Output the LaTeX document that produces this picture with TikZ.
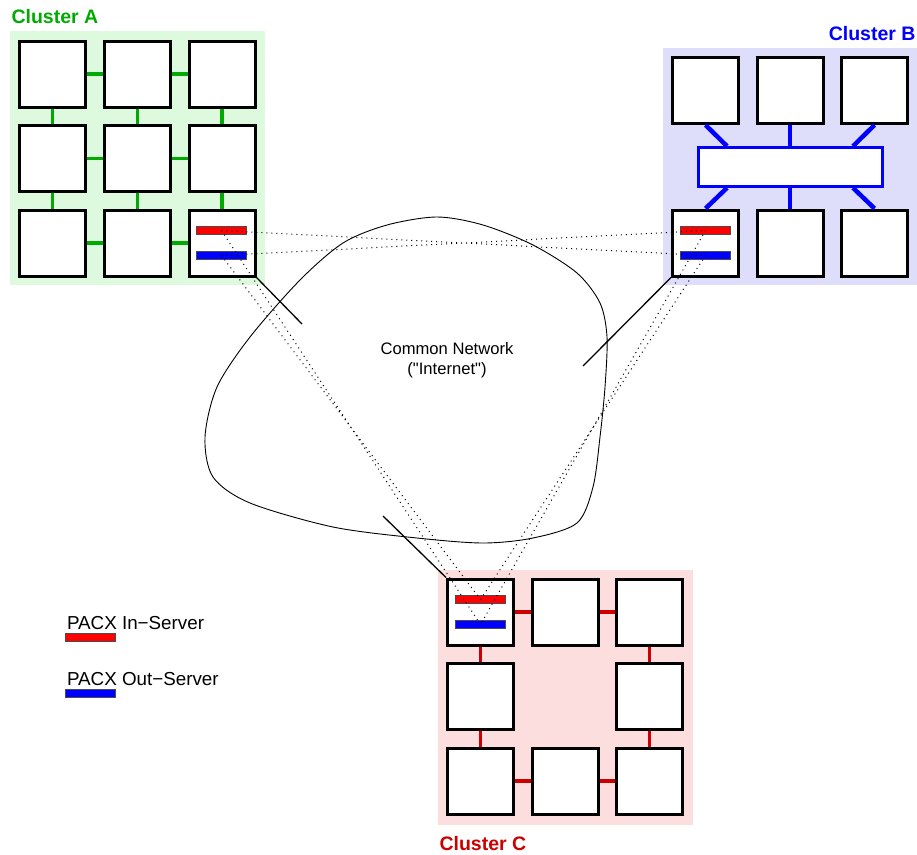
\documentclass[tikz,border=0pt]{standalone}
\usepackage{fontspec}
\setmainfont{Liberation Sans}
\newfontfamily\netfont{Liberation Sans}
\definecolor{clgreen}{RGB}{0,170,0}
\definecolor{clblue}{RGB}{0,0,255}
\definecolor{clred}{RGB}{204,0,0}
\definecolor{bgA}{RGB}{222,250,222}
\definecolor{bgB}{RGB}{222,222,250}
\definecolor{bgC}{RGB}{252,222,222}
\begin{document}
\begin{tikzpicture}[x=1pt,y=-1pt,
    pebox/.style={draw,line width=3pt,fill=white,minimum size=66pt,inner sep=0pt},
    insrv/.style={draw=black!70,line width=0.8pt,fill=red,minimum width=50pt,minimum height=8pt,inner sep=0pt},
    outsrv/.style={insrv,fill=blue},
    link/.style={line width=3.5pt},
    pacx/.style={line width=1pt,dash pattern=on 1pt off 4pt,black},
    clname/.style={anchor=base west,font=\bfseries\fontsize{19.5}{24}\selectfont}]
\useasboundingbox (0,0) rectangle (917,854);
% backgrounds
\fill[bgA] (10,31) rectangle (265,285);
\fill[bgB] (663,48) rectangle (917,285);
\fill[bgC] (438,570) rectangle (693,825);
\node[clname,text=clgreen] (labA) at (8,23) {Cluster A};
\node[clname,anchor=base east,text=clblue] (labB) at (919,40) {Cluster B};
\node[clname,text=clred] (labC) at (436,850) {Cluster C};
% cluster A
\node[pebox] (a11) at (52.5,74) {};
\node[pebox] (a12) at (137.5,74) {};
\node[pebox] (a13) at (222,74) {};
\node[pebox] (a21) at (52.5,158.5) {};
\node[pebox] (a22) at (137.5,158.5) {};
\node[pebox] (a23) at (222,158.5) {};
\node[pebox] (a31) at (52.5,243) {};
\node[pebox] (a32) at (137.5,243) {};
\node[pebox] (a33) at (222,243) {};
\path[link,clgreen] (a11.east) edge (a12.west) (a12.east) edge (a13.west)
    (a21.east) edge (a22.west) (a22.east) edge (a23.west)
    (a31.east) edge (a32.west) (a32.east) edge (a33.west);
\path[link,clgreen] (a11.south) edge (a21.north) (a21.south) edge (a31.north)
    (a12.south) edge (a22.north) (a22.south) edge (a32.north)
    (a13.south) edge (a23.north) (a23.south) edge (a33.north);
\node[insrv] (ain) at (221.5,230.5) {};
\node[outsrv] (aout) at (221.5,255.5) {};
% cluster B
\node[pebox] (b1) at (705.5,90.5) {};
\node[pebox] (b2) at (790,90.5) {};
\node[pebox] (b3) at (874.5,90.5) {};
\node[draw=clblue,line width=2.7pt,fill=white,minimum width=184pt,minimum height=39pt,inner sep=0pt] (bus) at (790.5,167) {};
\node[pebox] (b4) at (705.5,243) {};
\node[pebox] (b5) at (790,243) {};
\node[pebox] (b6) at (874.5,243) {};
\path[link,line width=4.5pt,clblue] (b1.south) edge ([xshift=-63.5pt]bus.north)
    (b2.south) edge (b2.south|-bus.north)
    (b3.south) edge ([xshift=62.5pt]bus.north);
\path[link,line width=4.5pt,clblue] ([xshift=-63.5pt]bus.south) edge (b4.north)
    (b5.north|-bus.south) edge (b5.north)
    ([xshift=62.5pt]bus.south) edge (b6.north);
\node[insrv] (bin) at (705.5,230.5) {};
\node[outsrv] (bout) at (705.5,255.5) {};
% cluster C
\node[pebox] (c11) at (480.5,612) {};
\node[pebox] (c12) at (565,612) {};
\node[pebox] (c13) at (649.5,612) {};
\node[pebox] (c21) at (480.5,696.5) {};
\node[pebox] (c23) at (649.5,696.5) {};
\node[pebox] (c31) at (480.5,781) {};
\node[pebox] (c32) at (565,781) {};
\node[pebox] (c33) at (649.5,781) {};
\path[link,clred] (c11.east) edge (c12.west) (c12.east) edge (c13.west)
    (c31.east) edge (c32.west) (c32.east) edge (c33.west);
\path[link,clred] (c11.south) edge (c21.north) (c21.south) edge (c31.north)
    (c13.south) edge (c23.north) (c23.south) edge (c33.north);
\node[insrv] (cin) at (480.5,599.5) {};
\node[outsrv] (cout) at (480.5,624.5) {};
% PACX connections
\draw[pacx] (ain.center)--(bout.center) (aout.center)--(bin.center);
\draw[pacx] (ain.center)--(cout.center) (aout.center)--(cin.center);
\draw[pacx] (bin.center)--(cout.center) (bout.center)--(cin.center);
% common network
\draw[line width=0.9pt] plot[smooth cycle] coordinates {(437,217) (483,225) (533,245)
    (577,273) (600,303) (607,337) (605,387) (600,437) (593,487) (577,523) (533,538)
    (483,543) (417,538) (333,527) (250,503) (213,477) (205,437) (217,387) (250,337)
    (300,280) (343,243) (387,225)};
\node[anchor=base,font=\netfont\fontsize{16.6}{20}\selectfont] (net1) at (447,354) {Common Network};
\node[anchor=base,font=\netfont\fontsize{16.6}{20}\selectfont] (net2) at (447,374) {("Internet")};
\coordinate (aend) at (302,324);
\coordinate (bend) at (583,366);
\coordinate (cend) at (383,516);
\draw[line width=1.3pt] (a33.south east)--(aend);
\draw[line width=1.3pt] (b4.south west)--(bend);
\draw[line width=1.3pt] (c11.north west)--(cend);
% legend
\node[anchor=base west,font=\fontsize{18.8}{22}\selectfont] (legintxt) at (63.5,629) {PACX In−Server};
\node[insrv] (legin) at (90.5,637.5) {};
\node[anchor=base west,font=\fontsize{18.8}{22}\selectfont] (legouttxt) at (63.5,685) {PACX Out−Server};
\node[outsrv] (legout) at (90.5,693.5) {};
\end{tikzpicture}
\end{document}
